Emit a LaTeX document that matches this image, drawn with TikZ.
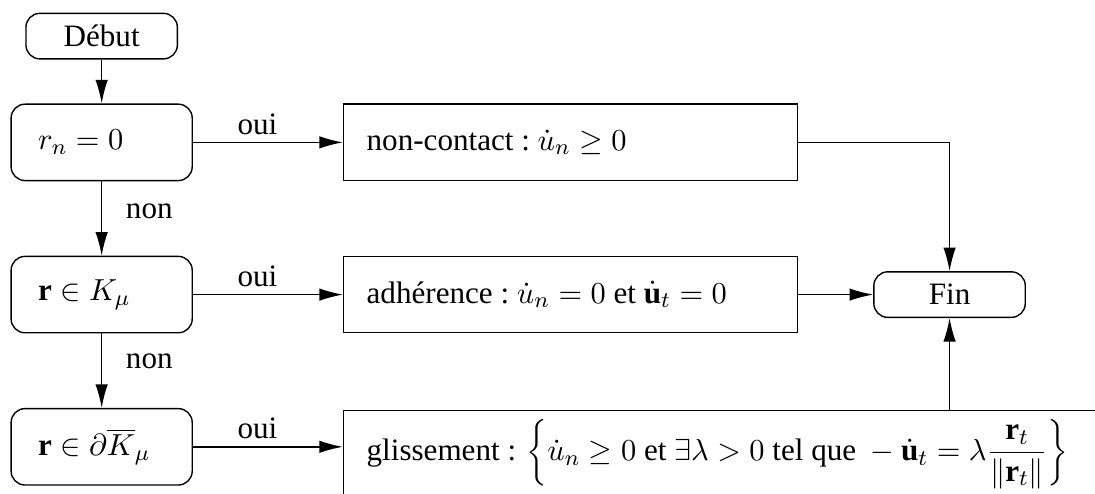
\documentclass[tikz,border=0pt]{standalone}
\usepackage{fontspec}
\setmainfont{Liberation Serif}
\usetikzlibrary{arrows.meta,positioning}

\begin{document}
\begin{tikzpicture}[node distance=26.8pt, auto, font=\fontsize{11.2pt}{13.5pt}\selectfont]
\tikzset{
	termnode/.style={rectangle,rounded corners=5pt,draw=black,line width=0.5pt,minimum width=54.5pt,minimum height=16.4pt,inner sep=0pt,text centered},
	testnode/.style={rectangle,rounded corners=5pt,draw=black,line width=0.5pt,text width=45.8pt,inner xsep=9.7pt,minimum height=27.5pt,align=flush left},
	casenode/.style={rectangle,draw=black,line width=0.5pt,inner xsep=8.3pt,minimum height=27.5pt,align=flush left},
	myarrow/.style={-{Latex[length=8.5pt,width=4.5pt]}, line width=0.5pt},
	mylabel/.style={inner sep=2.5pt}
}
\useasboundingbox (0,0) rectangle (394.2pt,-177.5pt);

\node[termnode] (debut) at (36.6pt,-13pt) {Début};
\node[testnode, below=15.8pt of debut] (rn) {$r_n=0$};
\node[testnode, below=of rn] (rK) {$\mathbf{r}\in K_\mu$};
\node[testnode, below=of rK] (rdK) {$\mathbf{r}\in\partial\overline{K}_\mu$};

\node[casenode, text width=146.8pt, right=54pt of rn] (noncontact) {non-contact :~$\dot{u}_n\geq 0$};
\node[casenode, text width=146.8pt, right=54pt of rK] (adherence) {adhérence :~$\dot{u}_n=0$ et $\dot{\mathbf{u}}_t=0$};
\node[termnode, right=27pt of adherence] (fin) {Fin};
\node[casenode, text width=264pt, below right=27.4pt and 0pt of adherence.south west] (glissement) {glissement : $\left\{\dot{u}_n\geq 0\mbox{ et }\exists\lambda>0\mbox{ tel que }-\dot{\mathbf{u}}_t=\lambda\displaystyle\frac{\mathbf{r}_t}{\|\mathbf{r}_t\|}\right\}$};

\draw[myarrow] (debut) -- (rn);
\draw[myarrow] (rn) -- node[mylabel,pos=0.4,xshift=6pt]{non} (rK);
\draw[myarrow] (rK) -- node[mylabel,pos=0.38,xshift=6pt]{non} (rdK);

\draw[myarrow] (rn) -- node[mylabel,pos=0.43]{oui} (noncontact);
\draw[myarrow] (rK) -- node[mylabel,pos=0.43]{oui} (adherence);
\draw[myarrow] (rdK.east) -- node[mylabel,pos=0.43]{oui} (rdK.east -| glissement.west);

\draw[myarrow] (noncontact.east) -| (fin.north);
\draw[myarrow] (adherence) -- (fin);
\draw[myarrow] (fin.south |- glissement.north) -- (fin.south);
\end{tikzpicture}
\end{document}
